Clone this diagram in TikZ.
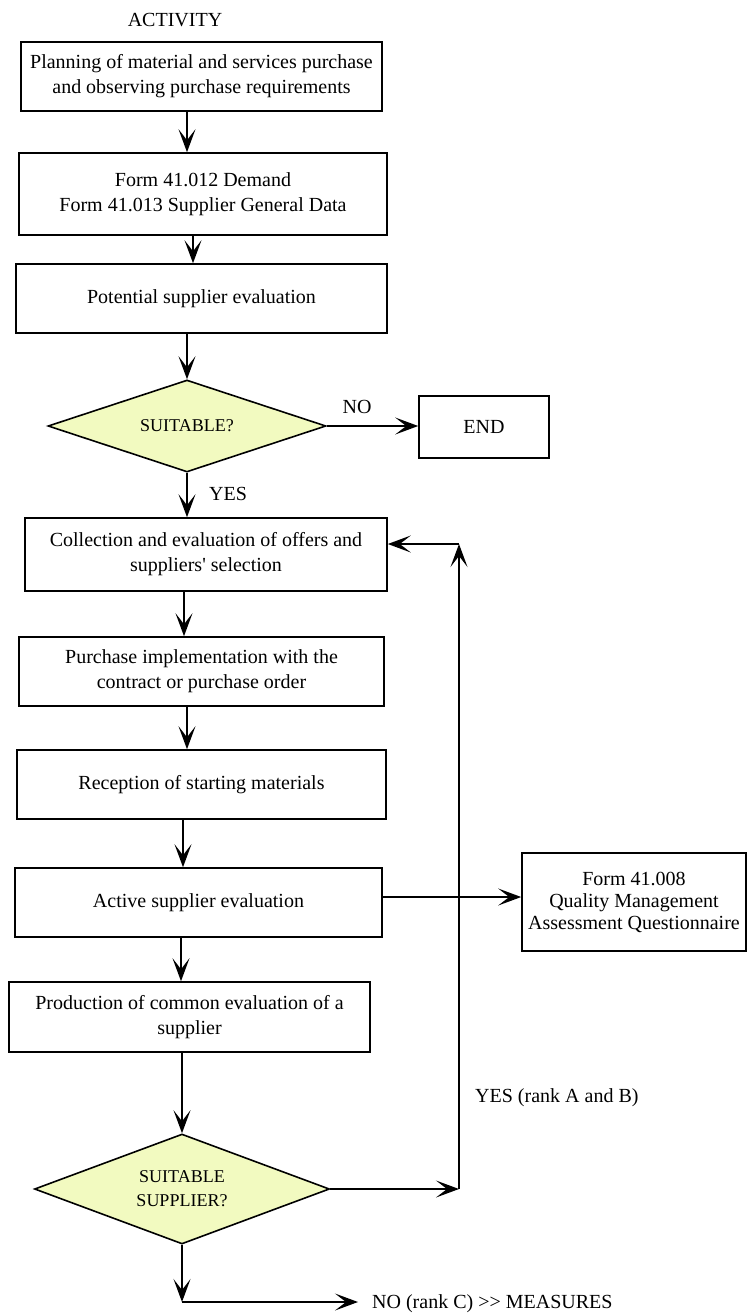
\documentclass[tikz,border=0pt]{standalone}
\usepackage{fontspec}
\setmainfont{Liberation Serif}[Ligatures=TeXOff]
\usetikzlibrary{arrows.meta,shapes.geometric}
\definecolor{decfill}{RGB}{242,250,192}

\begin{document}
\begin{tikzpicture}[x=1pt,y=-1pt,
  stepbox/.style={draw, line width=1.6pt, inner sep=0pt, align=center,
                  font=\fontsize{20}{25}\selectfont},
  decision/.style={diamond, draw, line width=1.6pt, fill=decfill, inner sep=0pt,
                   shape aspect=2.7, align=center, font=\fontsize{18}{24}\selectfont},
  arr/.style={line width=1.5pt, -{Stealth[length=23pt,width=17pt,inset=11pt]}},
  lbl/.style={inner sep=0pt, font=\fontsize{20}{25}\selectfont},
]
\useasboundingbox (0,0) rectangle (747,1315);

% heading
\node[lbl] (head) at (175,20) {ACTIVITY};

% main column
\node[stepbox, minimum width=361pt, minimum height=69pt] (plan) at (201.5,76.5)
  {Planning of material and services purchase\\and observing purchase requirements};
\node[stepbox, minimum width=368pt, minimum height=82pt] (forms) at (203,194)
  {Form 41.012 Demand\\Form 41.013 Supplier General Data};
\node[stepbox, minimum width=371pt, minimum height=69pt] (potential) at (201.5,298.5)
  {Potential supplier evaluation};
\node[decision, minimum width=278pt, minimum height=92pt] (suit) at (187,426)
  {SUITABLE?};
\node[stepbox, minimum width=130pt, minimum height=62pt] (end) at (484,427) {END};
\node[stepbox, minimum width=362pt, minimum height=73pt] (offers) at (206,554.5)
  {Collection and evaluation of offers and\\suppliers' selection};
\node[stepbox, minimum width=365pt, minimum height=69pt] (order) at (201.5,671.5)
  {Purchase implementation with the\\contract or purchase order};
\node[stepbox, minimum width=369pt, minimum height=69pt] (recep) at (201.5,784.5)
  {Reception of starting materials};
\node[stepbox, minimum width=367pt, minimum height=69pt] (active) at (198.5,902.5)
  {Active supplier evaluation};
\node[stepbox, minimum width=224pt, minimum height=98pt,
      font=\fontsize{20}{22}\selectfont] (quest) at (634,902)
  {Form 41.008\\Quality Management\\Assessment Questionnaire};
\node[stepbox, minimum width=361pt, minimum height=70pt] (common) at (189.5,1017)
  {Production of common evaluation of a\\supplier};
\node[decision, minimum width=295pt, minimum height=110pt] (suitsup) at (182,1189)
  {SUITABLE\\SUPPLIER?};

% labels on the branches
\node[lbl] (noA) at (357,407) {NO};
\node[lbl] (yesA) at (228,494) {YES};
\node[lbl, anchor=west] (yesB) at (475,1098) {YES (rank A and B)};
\node[lbl, anchor=west, inner xsep=14pt] (noB) at (358,1304) {NO (rank C) >> MEASURES};

% helper points for the vertical connectors
\coordinate (x187) at (187,0);
\coordinate (x193) at (193,0);
\coordinate (x184) at (184,0);
\coordinate (x183) at (183,0);
\coordinate (x181) at (181,0);
\coordinate (yq) at (0,897);
\coordinate (loopB) at (459,1189);
\coordinate (loopT) at (459,544);
\coordinate (noTurn) at (182,1302);

% connectors
\draw[arr] (plan.south -| x187) -- (forms.north -| x187);
\draw[arr] (forms.south -| x193) -- (potential.north -| x193);
\draw[arr] (potential.south -| suit.north) -- (suit.north);
\draw[arr] (suit.east) -- (end.west |- suit.east);
\draw[arr] (suit.south) -- (offers.north -| suit.south);
\draw[arr] (offers.south -| x184) -- (order.north -| x184);
\draw[arr] (order.south -| x187) -- (recep.north -| x187);
\draw[arr] (recep.south -| x183) -- (active.north -| x183);
\draw[arr] (active.east |- yq) -- (quest.west |- yq);
\draw[arr] (active.south -| x181) -- (common.north -| x181);
\draw[arr] (common.south -| suitsup.north) -- (suitsup.north);

% feedback loop back to the offers step
\draw[arr] (suitsup.east) -- (loopB);
\draw[arr] (loopB) -- (loopT);
\draw[arr] (loopT) -- (offers.east |- loopT);

% rejection branch
\draw[arr] (suitsup.south) -- (noTurn);
\draw[arr] (noTurn) -- (noB.west |- noTurn);
\end{tikzpicture}
\end{document}
